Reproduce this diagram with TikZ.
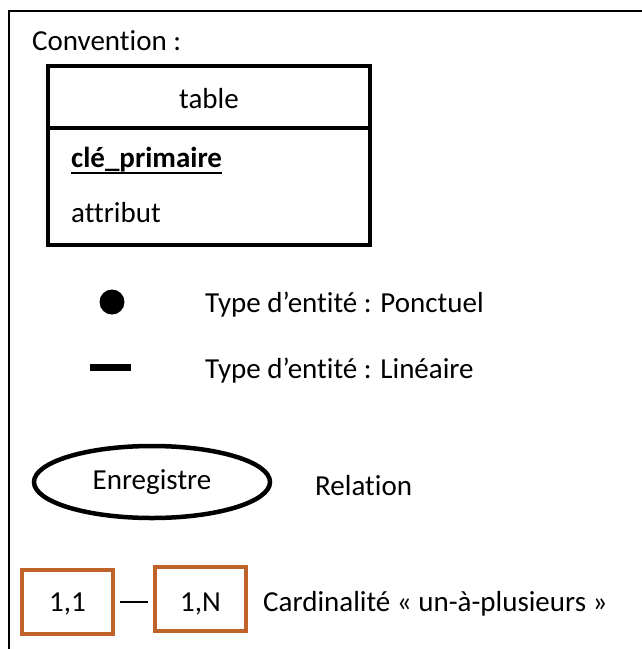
\documentclass[tikz,border=0pt]{standalone}
\usepackage{fontspec}
\setmainfont{Carlito}[Ligatures={NoCommon}]
\usetikzlibrary{shapes.geometric}
\definecolor{cardorange}{RGB}{192,99,42}
\begin{document}
\begin{tikzpicture}[x=1pt,y=-1pt,
  txt/.style={inner sep=0pt,anchor=base west,font=\fontsize{29}{34}\selectfont},
  ctxt/.style={inner sep=0pt,anchor=base,font=\fontsize{29}{34}\selectfont},
  tblbox/.style={draw,line width=4.5pt},
  cardbox/.style={draw=cardorange,line width=4.5pt,anchor=base,minimum width=91pt,minimum height=0pt,inner sep=0pt,font=\fontsize{29}{34}\selectfont},
  rel/.style={draw,ellipse,line width=4.5pt,minimum width=236pt,minimum height=72pt,inner sep=0pt,font=\fontsize{29}{34}\selectfont}]
\useasboundingbox (0,0) rectangle (642,649);
% frame
\draw[line width=2.5pt] (9,649) -- (9,11) -- (642,11);
\node[txt] (conv) at (32,50) {Convention :};
% table
\draw[tblbox] (48,66) rectangle (370,128);
\draw[tblbox] (48,128) rectangle (370,245);
\node[ctxt] (tname) at (209,108) {table};
\node[txt] (pk) at (71,167) {\bfseries clé\_primaire};
\draw[line width=2pt] ([yshift=-6pt]pk.base west) -- ([yshift=-6pt]pk.base east);
\node[txt] (attr) at (71,222) {attribut};
% point / line
\fill (112,302) circle (12.5pt);
\node[txt] (ponct) at (205,312) {Type d’entité : Ponctuel};
\draw[line width=7pt] (90,367) -- (131,367);
\node[txt] (lin) at (205,378) {Type d’entité : Linéaire};
% relation
\node[rel] (enr) at (152,482) {Enregistre};
\node[txt] (relt) at (315,495) {Relation};
% cardinalities
\node[cardbox,text height=41pt,text depth=23pt] (c11) at (67.5,611) {1,1};
\node[cardbox,text height=44pt,text depth=20pt] (c1n) at (200.5,611) {1,N};
\draw[line width=1.5pt,shorten <=5pt,shorten >=5pt] (c11.east |- 0,602) -- (c1n.west |- 0,602);
\node[txt] (card) at (263,611) {Cardinalité « un-à-plusieurs »};
\end{tikzpicture}
\end{document}
